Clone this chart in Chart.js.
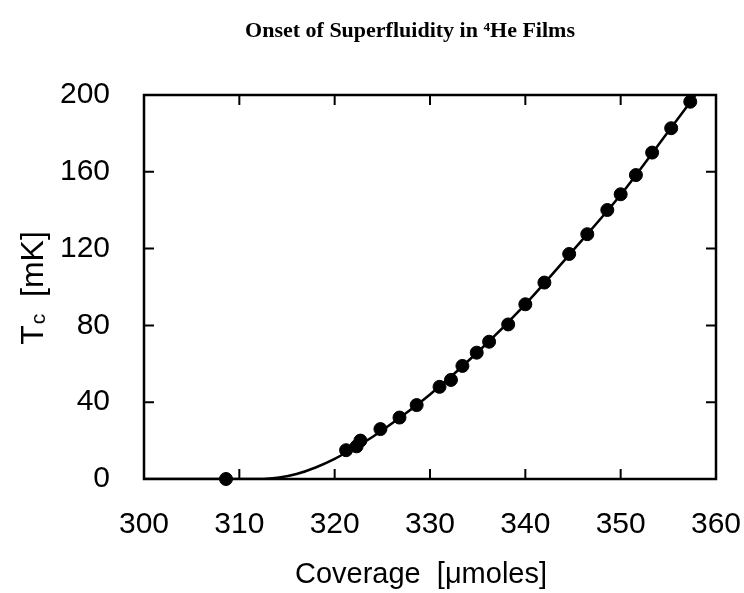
<!DOCTYPE html>
<html>
<head>
<meta charset="utf-8">
<script src="https://cdn.jsdelivr.net/npm/chart.js@4"></script>
<style>
  html, body { margin: 0; padding: 0; background: #fff; }
  .wrap { width: 744px; height: 593px; }
</style>
</head>
<body>
<div class="wrap"><canvas class="tc-chart" width="744" height="593"></canvas></div>
<script>
// measured onset temperatures
const coverage = [308.6, 321.2, 322.3, 322.7, 324.8, 326.8, 328.6, 331.0, 332.2, 333.4, 334.9, 336.2,
  338.2, 340.0, 342.0, 344.6, 346.5, 348.6, 350.0, 351.6, 353.3, 355.3, 357.3];
const tc = [0, 15, 17, 20, 26, 32, 38.5, 48, 51.6, 58.9, 65.8, 71.5,
  80.5, 91, 102.3, 117.2, 127.5, 140.1, 148.3, 158.3, 170, 182.7, 196.5];

// smooth curve through the data
const fitCoverage = [300, 312.5, 314, 316, 318, 320, 322, 324, 327, 330, 335, 340, 345, 350, 355, 358];
const fitTc = [0, 0, 0.6, 2.6, 6, 10.5, 16, 22, 32.5, 44, 66, 91, 119, 148, 181, 201];

const xTicks = [300, 310, 320, 330, 340, 350, 360];
const yTicks = [0, 40, 80, 120, 160, 200];

const titleText = "Onset of Superfluidity in \u2074He Films";
const xTitle = "Coverage  [\u03bcmoles]";

document.addEventListener("DOMContentLoaded", () => {
  let ctx = document.querySelector(".tc-chart").getContext("2d");

  const toPoints = (xs, ys) => xs.map((x, i) => ({ x: x, y: ys[i] }));

  // frame, inward ticks on four sides, titles
  const framePlugin = {
    id: "frame",
    afterDatasetsDraw(chart) {
      const c = chart.ctx;
      const a = chart.chartArea;
      const xs = chart.scales.x;
      const ys = chart.scales.y;
      const tl = 10;
      c.save();
      c.strokeStyle = "#000";
      c.lineWidth = 2.5;
      c.strokeRect(a.left, a.top, a.right - a.left, a.bottom - a.top);
      c.lineWidth = 2;
      c.beginPath();
      xTicks.slice(1, -1).forEach((v) => {
        const px = xs.getPixelForValue(v);
        c.moveTo(px, a.bottom);
        c.lineTo(px, a.bottom - tl);
        c.moveTo(px, a.top);
        c.lineTo(px, a.top + tl);
      });
      yTicks.slice(1, -1).forEach((v) => {
        const py = ys.getPixelForValue(v);
        c.moveTo(a.left, py);
        c.lineTo(a.left + tl, py);
        c.moveTo(a.right, py);
        c.lineTo(a.right - tl, py);
      });
      c.stroke();

      // chart title
      c.fillStyle = "#000";
      c.font = "bold 22px 'Liberation Serif', serif";
      c.textAlign = "center";
      c.textBaseline = "alphabetic";
      c.fillText(titleText, 410, 37);

      // x title
      c.font = "29px 'Liberation Sans', sans-serif";
      c.fillText(xTitle, 421, 583);

      // y title with subscript c
      const big = "32px 'Liberation Sans', sans-serif";
      const small = "21px 'Liberation Sans', sans-serif";
      c.font = big;
      const wT = c.measureText("T").width;
      const wR = c.measureText("  [mK]").width;
      c.font = small;
      const wc = c.measureText("c").width;
      const total = wT + wc + wR;
      c.translate(43, 288);
      c.rotate(-Math.PI / 2);
      c.textAlign = "left";
      let x0 = -total / 2;
      c.font = big;
      c.fillText("T", x0, 0);
      c.font = small;
      c.fillText("c", x0 + wT + 1, 2);
      c.font = big;
      c.fillText("  [mK]", x0 + wT + wc, 0);
      c.restore();
    },
  };

  const config = {
    type: "scatter",
    data: {
      datasets: [
        {
          label: "fit",
          data: toPoints(fitCoverage, fitTc),
          showLine: true,
          borderColor: "#000",
          borderWidth: 2.5,
          pointRadius: 0,
          cubicInterpolationMode: "monotone",
        },
        {
          label: "Tc",
          data: toPoints(coverage, tc),
          backgroundColor: "#000",
          borderColor: "#000",
          pointRadius: 6.5,
          clip: false,
        },
      ],
    },
    options: {
      responsive: false,
      animation: false,
      layout: { padding: { top: 95, right: 28, left: 0, bottom: 0 } },
      plugins: {
        legend: { display: false },
        tooltip: { enabled: false },
        title: { display: false },
      },
      scales: {
        x: {
          type: "linear",
          min: 300,
          max: 360,
          afterFit: (scale) => {
            scale.height = 114;
            scale.paddingLeft = 0;
            scale.paddingRight = 0;
          },
          afterBuildTicks: (scale) => { scale.ticks = xTicks.map((v) => ({ value: v })); },
          grid: { display: false, drawTicks: false },
          border: { display: false },
          ticks: {
            padding: 28,
            color: "#000",
            font: { family: "'Liberation Sans', sans-serif", size: 30 },
          },
        },
        y: {
          type: "linear",
          min: 0,
          max: 200,
          afterFit: (scale) => {
            scale.width = 144;
            scale.paddingTop = 0;
            scale.paddingBottom = 0;
          },
          afterBuildTicks: (scale) => { scale.ticks = yTicks.map((v) => ({ value: v })); },
          grid: { display: false, drawTicks: false },
          border: { display: false },
          ticks: {
            padding: 34,
            color: "#000",
            font: { family: "'Liberation Sans', sans-serif", size: 30 },
          },
        },
      },
    },
    plugins: [framePlugin],
  };

  const tcChart = new Chart(ctx, config);
});
</script>
</body>
</html>
